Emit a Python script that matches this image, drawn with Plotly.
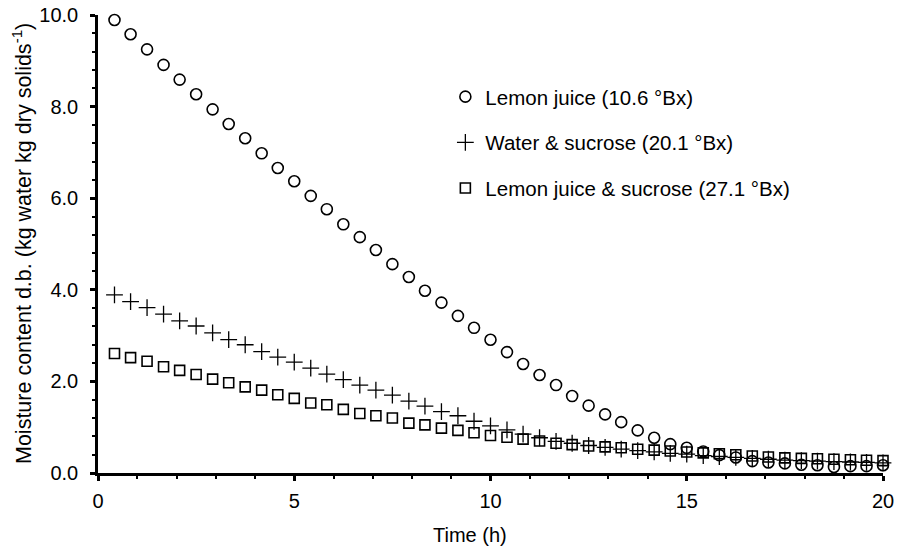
import plotly.graph_objects as go

time_h = [0.42, 0.83, 1.25, 1.67, 2.08, 2.5, 2.92, 3.33, 3.75, 4.17, 4.58, 5.0,
          5.42, 5.83, 6.25, 6.67, 7.08, 7.5, 7.92, 8.33, 8.75, 9.17, 9.58, 10.0,
          10.42, 10.83, 11.25, 11.67, 12.08, 12.5, 12.92, 13.33, 13.75, 14.17, 14.58, 15.0,
          15.42, 15.83, 16.25, 16.67, 17.08, 17.5, 17.92, 18.33, 18.75, 19.17, 19.58, 20.0]

lemon_juice = [9.89, 9.58, 9.25, 8.91, 8.59, 8.27, 7.94, 7.62, 7.31, 6.98, 6.66, 6.37,
               6.05, 5.76, 5.43, 5.15, 4.87, 4.56, 4.28, 3.98, 3.72, 3.43, 3.17, 2.91,
               2.64, 2.38, 2.14, 1.92, 1.68, 1.47, 1.28, 1.11, 0.93, 0.77, 0.63, 0.55,
               0.47, 0.39, 0.34, 0.26, 0.23, 0.21, 0.18, 0.17, 0.13, 0.15, 0.15, 0.17]

water_sucrose = [3.89, 3.74, 3.61, 3.47, 3.32, 3.21, 3.06, 2.91, 2.80, 2.65, 2.53, 2.42,
                 2.29, 2.16, 2.04, 1.92, 1.81, 1.70, 1.57, 1.46, 1.34, 1.25, 1.13, 1.03,
                 0.94, 0.85, 0.77, 0.69, 0.65, 0.60, 0.56, 0.52, 0.49, 0.46, 0.43, 0.41,
                 0.38, 0.36, 0.34, 0.32, 0.30, 0.28, 0.27, 0.26, 0.25, 0.24, 0.23, 0.22]

lemon_sucrose = [2.61, 2.52, 2.44, 2.32, 2.24, 2.15, 2.05, 1.97, 1.88, 1.81, 1.71, 1.63,
                 1.53, 1.49, 1.39, 1.30, 1.25, 1.20, 1.09, 1.05, 0.98, 0.93, 0.88, 0.82,
                 0.78, 0.74, 0.70, 0.65, 0.62, 0.59, 0.57, 0.55, 0.52, 0.50, 0.48, 0.46,
                 0.44, 0.42, 0.40, 0.37, 0.35, 0.33, 0.32, 0.31, 0.30, 0.29, 0.28, 0.27]

series_names = ["Lemon juice (10.6 °Bx)", "Water & sucrose (20.1 °Bx)",
                "Lemon juice & sucrose (27.1 °Bx)"]
x_title = "Time (h)"
y_title = "Moisture content d.b. (kg water kg dry solids<sup>-1</sup>)"

FONT = "Liberation Sans, Arial, sans-serif"

fig = go.Figure()
fig.add_trace(go.Scatter(x=time_h, y=lemon_juice, mode="markers", name=series_names[0],
                         legendgroup="a", cliponaxis=False,
                         marker=dict(symbol="circle-open", size=11, color="black",
                                     line=dict(width=1.6, color="black"))))
fig.add_trace(go.Scatter(x=time_h, y=water_sucrose, mode="markers", name=series_names[1],
                         legendgroup="b", cliponaxis=False,
                         marker=dict(symbol="cross-thin-open", size=12, color="black",
                                     line=dict(width=1.3, color="black"))))
fig.add_trace(go.Scatter(x=time_h, y=lemon_sucrose, mode="markers", name=series_names[2],
                         legendgroup="c", cliponaxis=False,
                         marker=dict(symbol="square-open", size=10, color="black",
                                     line=dict(width=1.6, color="black"))))

fig.update_layout(
    width=899, height=551,
    margin=dict(l=98, r=16, t=15, b=78),
    paper_bgcolor="white", plot_bgcolor="white",
    font=dict(family=FONT, size=20, color="black"),
    showlegend=True,
    legend=dict(x=0.4425, y=0.865, xanchor="left", yanchor="top",
                bgcolor="rgba(0,0,0,0)", font=dict(size=20.5),
                traceorder="grouped", tracegroupgap=16, itemwidth=30),
    xaxis=dict(range=[0, 20], tickvals=[0, 5, 10, 15, 20], showgrid=False, zeroline=False,
               showline=True, linecolor="black", linewidth=2.5, automargin=False,
               ticks="outside", ticklen=5, tickwidth=2.5, tickcolor="black",
               tickfont=dict(size=20), ticklabelstandoff=3,
               minor=dict(dtick=1, ticks="outside", ticklen=3, tickwidth=2, tickcolor="black")),
    yaxis=dict(range=[0, 10], tickvals=[0, 2, 4, 6, 8, 10], tickformat=".1f",
               showgrid=False, zeroline=False, automargin=False,
               showline=True, linecolor="black", linewidth=2.5,
               ticks="outside", ticklen=5, tickwidth=2.5, tickcolor="black",
               tickfont=dict(size=20), ticklabelstandoff=8,
               minor=dict(dtick=0.4, ticks="outside", ticklen=3, tickwidth=2, tickcolor="black")),
    annotations=[
        dict(text=x_title, xref="paper", yref="paper", x=0.474, y=-0.136,
             xanchor="center", yanchor="middle", showarrow=False, font=dict(size=20)),
        dict(text=y_title, xref="paper", yref="paper", x=-0.0968, y=0.5,
             xanchor="center", yanchor="middle", showarrow=False, textangle=-90,
             font=dict(size=21.5)),
    ],
)

fig.write_html("out.html")
